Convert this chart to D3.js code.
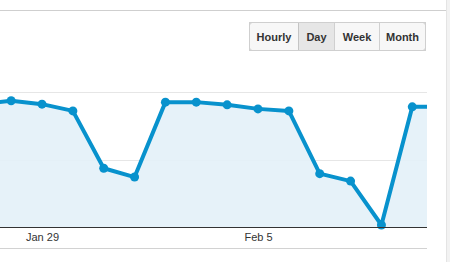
<!DOCTYPE html>
<html>
<head>
<meta charset="utf-8">
<script src="https://cdn.jsdelivr.net/npm/d3@7"></script>
<style>
  body { margin: 0; background: #fff; font-family: "Liberation Sans", Arial, sans-serif; }
</style>
</head>
<body>
<div id="chart"></div>
<script>
const days = ["2013-01-27","2013-01-28","2013-01-29","2013-01-30","2013-01-31","2013-02-01","2013-02-02",
              "2013-02-03","2013-02-04","2013-02-05","2013-02-06","2013-02-07","2013-02-08","2013-02-09",
              "2013-02-10","2013-02-11"];
const visits = [182, 187, 182, 172, 87, 74, 185, 185, 181, 175, 172, 79, 68, 3, 178, 178];
const tickDays = ["2013-01-29", "2013-02-05"];
const gridVals = [0, 100, 200];
const buttons = ["Hourly", "Day", "Week", "Month"];
const activeBtn = "Day";

const width = 450, height = 262;
const parse = d3.timeParse("%Y-%m-%d");
const data = days.map((d, i) => ({ date: parse(d), v: visits[i] }));

const svg = d3.select("#chart").append("svg")
  .attr("width", width).attr("height", height);

// page frame
svg.append("line").attr("x1", 0).attr("x2", 446).attr("y1", 10.5).attr("y2", 10.5)
  .attr("stroke", "#cfcfcf");
svg.append("rect").attr("x", 446).attr("y", 0).attr("width", 4).attr("height", height)
  .attr("fill", "#f2f2f2");
svg.append("line").attr("x1", 446.5).attr("x2", 446.5).attr("y1", 0).attr("y2", height)
  .attr("stroke", "#e4e4e4");

// buttons
const btnW = [49, 36, 45, 46];
let bx = 249.5;
const bg = svg.append("g");
buttons.forEach((b, i) => {
  const g = bg.append("g").attr("transform", `translate(${bx},22.5)`);
  g.append("rect").attr("width", btnW[i]).attr("height", 28)
    .attr("fill", b === activeBtn ? "#e6e6e6" : "#f7f7f7")
    .attr("stroke", b === activeBtn ? "#c4c4c4" : "#d0d0d0");
  g.append("text").attr("x", btnW[i] / 2).attr("y", 18)
    .attr("text-anchor", "middle").attr("font-size", 11).attr("font-weight", "bold")
    .attr("fill", "#333").text(b);
  bx += btnW[i];
});
bg.append("rect").attr("x", 249.5).attr("y", 22.5).attr("width", bx - 249.5).attr("height", 28)
  .attr("rx", 3).attr("fill", "none").attr("stroke", "#cfcfcf");

// chart
const plotRight = 427;
const x = d3.scaleTime()
  .domain([parse("2013-01-29"), parse("2013-02-05")])
  .range([42, 258]);
const y = d3.scaleLinear().domain([0, 200]).range([227, 92]);

svg.append("defs").append("clipPath").attr("id", "clip")
  .append("rect").attr("x", 0).attr("y", 0).attr("width", plotRight).attr("height", 240);

svg.append("g").selectAll("line").data(gridVals.slice(1)).join("line")
  .attr("x1", 0).attr("x2", plotRight)
  .attr("y1", d => Math.round(y(d)) + 0.5).attr("y2", d => Math.round(y(d)) + 0.5)
  .attr("stroke", "#e6e6e6");

const plot = svg.append("g").attr("clip-path", "url(#clip)");

plot.append("path").datum(data)
  .attr("fill", "#e3f1f8").attr("fill-opacity", 0.9)
  .attr("d", d3.area().x(d => x(d.date)).y0(y(0)).y1(d => y(d.v)));

plot.append("path").datum(data)
  .attr("fill", "none").attr("stroke", "#0892cd").attr("stroke-width", 4)
  .attr("stroke-linejoin", "round")
  .attr("d", d3.line().x(d => x(d.date)).y(d => y(d.v)));

plot.selectAll("circle").data(data).join("circle")
  .attr("cx", d => x(d.date)).attr("cy", d => y(d.v)).attr("r", 4.5)
  .attr("fill", "#0892cd");

// baseline axis
svg.append("line").attr("x1", 0).attr("x2", plotRight).attr("y1", 227.5).attr("y2", 227.5)
  .attr("stroke", "#333");

const xAxis = d3.axisBottom(x).tickValues(tickDays.map(parse))
  .tickFormat(d3.timeFormat("%b %-d")).tickSize(0).tickPadding(0);
const ax = svg.append("g").attr("transform", "translate(0,228)").call(xAxis);
ax.select(".domain").remove();
ax.selectAll("text").attr("font-size", 11).attr("fill", "#333")
  .attr("font-family", "Liberation Sans, Arial, sans-serif").attr("dy", "1.2em");

svg.append("line").attr("x1", 0).attr("x2", plotRight).attr("y1", 248.5).attr("y2", 248.5)
  .attr("stroke", "#d2d2d2");
</script>
</body>
</html>
